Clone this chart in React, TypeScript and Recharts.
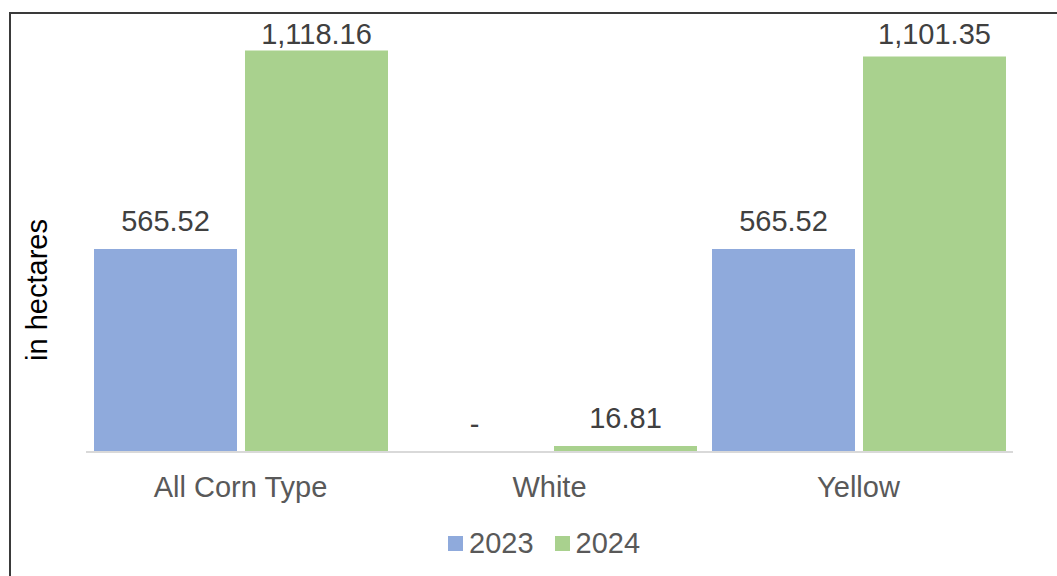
import { BarChart, Bar, XAxis, YAxis, LabelList } from 'recharts';

const categories = ['All Corn Type', 'White', 'Yellow'];
const values2023 = [565.52, 0, 565.52];
const values2024 = [1118.16, 16.81, 1101.35];
const seriesNames = ['2023', '2024'];

const BLUE = '#8FAADC';
const GREEN = '#A9D18E';
const FONT = '"Liberation Sans", Arial, sans-serif';

const data = categories.map((name, i) => ({
  name,
  y2023: values2023[i],
  y2024: values2024[i],
}));

// Excel style: zero shown as a dash
const fmt = (v: number) =>
  v === 0 ? '-' : v.toLocaleString('en-US', { minimumFractionDigits: 2, maximumFractionDigits: 2 });

const renderLabel = (props: any) => {
  const { x, y, width, height, value } = props;
  // labels get pushed down when they would leave the plot area
  const top = Number(height) < 0 ? Number(y) + Number(height) : Number(y);
  const ty = Math.max(top - 18, 44);
  return (
    <text x={Number(x) + Number(width) / 2} y={ty} textAnchor="middle" fill="#404040" fontSize={29} fontFamily={FONT}>
      {fmt(Number(value))}
    </text>
  );
};

const renderTick = (props: any) => {
  const { x, y, payload } = props;
  return (
    <text x={x} y={y + 45} textAnchor="middle" fill="#595959" fontSize={29} fontFamily={FONT}>
      {payload.value}
    </text>
  );
};

// keep a hairline for zero values so the label still gets drawn
const minSize = (v: any) => (Number(v) === 0 ? 0.5 : 0);

export default function App() {
  return (
    <div style={{ position: 'fixed', left: 0, top: 0, width: 1057, height: 576, overflow: 'hidden', background: '#fff', fontFamily: FONT }}>
      <div style={{ position: 'absolute', left: 9, top: 12, width: 1100, height: 600, borderLeft: '2px solid #3a3a3a', borderTop: '2px solid #3a3a3a' }} />
      <div style={{ position: 'absolute', left: 0, top: 0 }}>
        <BarChart width={1057} height={576} data={data} margin={{ top: 21, right: 44, bottom: 64, left: 86 }} barCategoryGap={8} barGap={8}>
          <XAxis
            dataKey="name"
            height={60}
            axisLine={{ stroke: '#D9D9D9', strokeWidth: 2 }}
            tickLine={false}
            tickSize={0}
            tickMargin={0}
            tick={renderTick}
            interval={0}
          />
          <YAxis hide domain={[0, 1200]} />
          <Bar dataKey="y2023" name={seriesNames[0]} fill={BLUE} minPointSize={minSize} isAnimationActive={false}>
            <LabelList dataKey="y2023" content={renderLabel} />
          </Bar>
          <Bar dataKey="y2024" name={seriesNames[1]} fill={GREEN} isAnimationActive={false}>
            <LabelList dataKey="y2024" content={renderLabel} />
          </Bar>
        </BarChart>
      </div>
      <div
        style={{
          position: 'absolute', left: 37, top: 290, width: 200, height: 34, marginLeft: -100, marginTop: -17,
          transform: 'rotate(-90deg)', textAlign: 'center', fontSize: 29, lineHeight: '34px', color: '#000',
          whiteSpace: 'nowrap',
        }}
      >
        in hectares
      </div>
      <div style={{ position: 'absolute', left: 448, top: 526, display: 'flex', alignItems: 'center', height: 34, fontSize: 29, color: '#595959' }}>
        {seriesNames.map((s, i) => (
          <div key={s} style={{ display: 'flex', alignItems: 'center', marginRight: i === 0 ? 21 : 0 }}>
            <span style={{ display: 'inline-block', width: 15, height: 15, background: i === 0 ? BLUE : GREEN, marginRight: 6 }} />
            <span>{s}</span>
          </div>
        ))}
      </div>
    </div>
  );
}
